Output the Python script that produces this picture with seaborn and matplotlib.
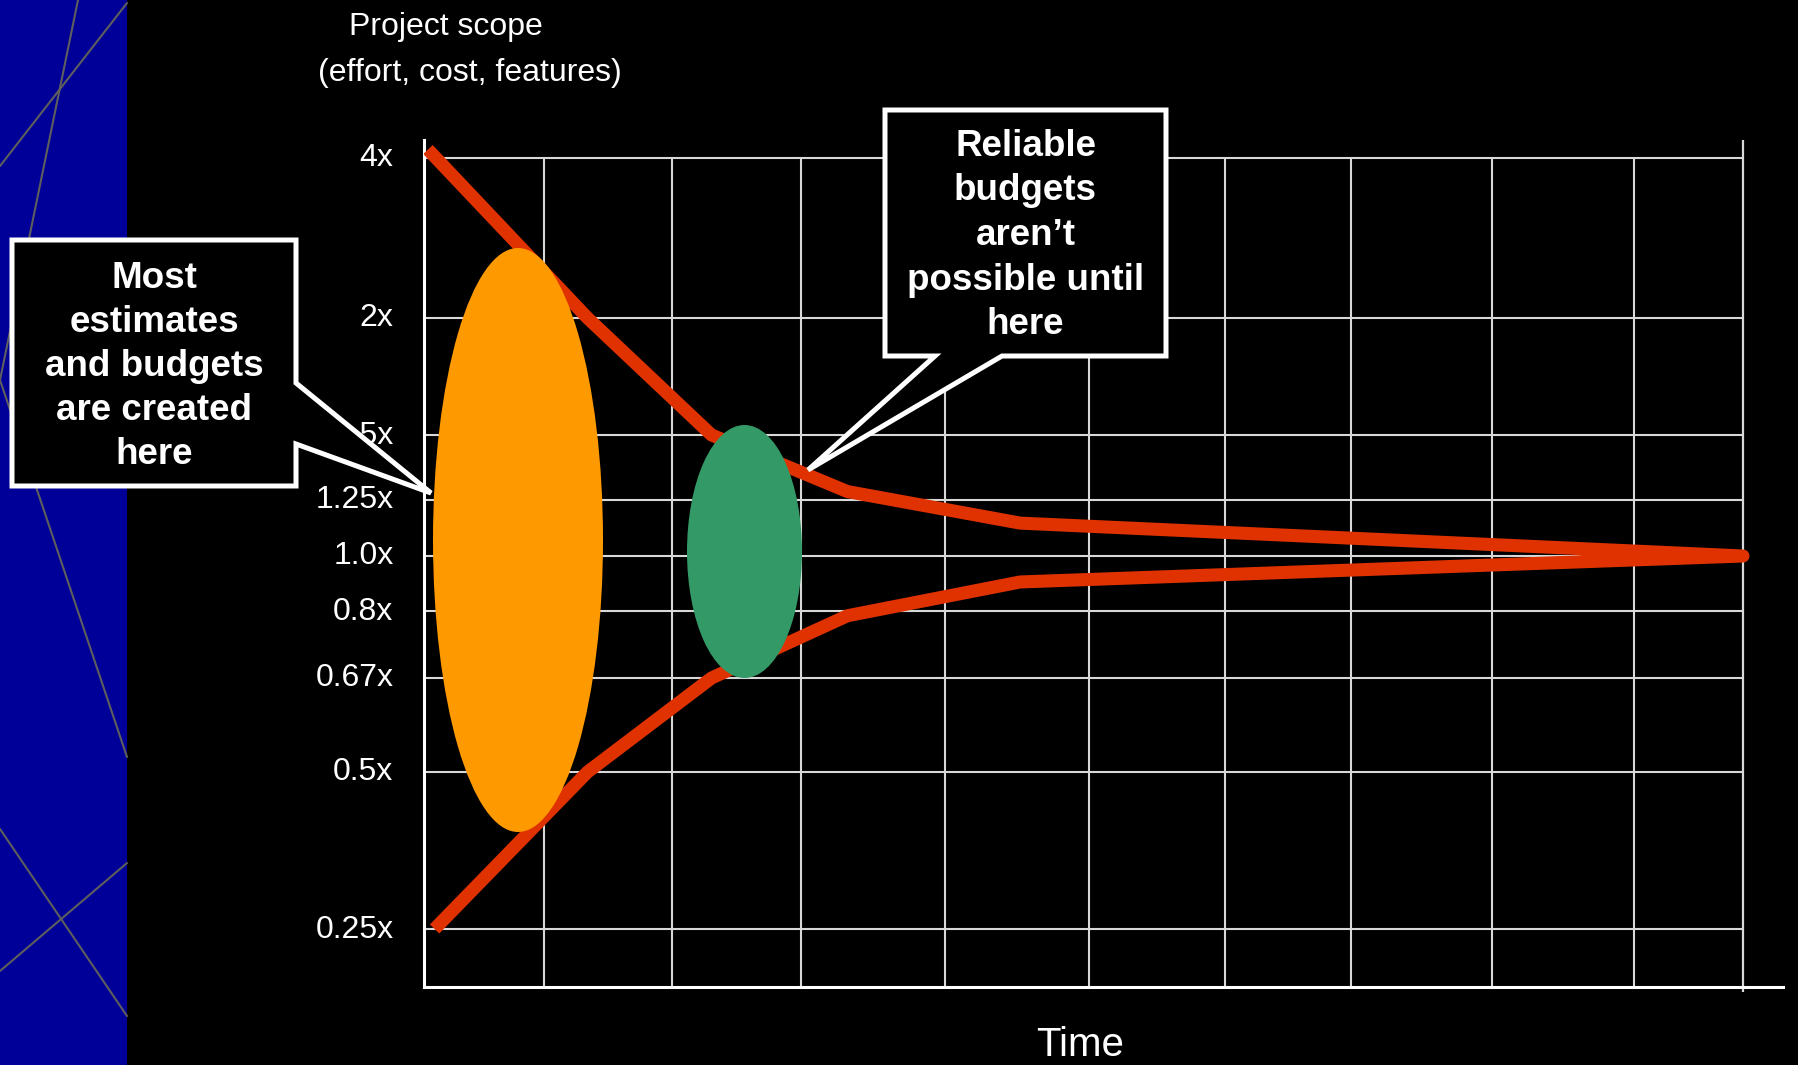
import numpy as np
import pandas as pd
import matplotlib
matplotlib.use("Agg")
import matplotlib.pyplot as plt
import seaborn as sns
from matplotlib.patches import Ellipse, Polygon, Rectangle
from matplotlib.lines import Line2D
from matplotlib.ticker import NullLocator
from matplotlib.transforms import ScaledTranslation

# ---- data -------------------------------------------------------------
# time is in percent of the project, 100 = project complete
upper_time = [0.3, 12.4, 21.8, 32.1, 45.2, 100.0]
upper_scope = [4.15, 2.0, 1.5, 1.28, 1.14, 1.0]
lower_time = [0.8, 12.4, 21.8, 32.1, 45.2, 100.0]
lower_scope = [0.25, 0.5, 0.67, 0.79, 0.90, 1.0]

scope_ticks = [4.0, 2.0, 1.5, 1.25, 1.0, 0.8, 0.67, 0.5, 0.25]
scope_tick_labels = ["4x", "2x", "1.5x", "1.25x", "1.0x", "0.8x", "0.67x", "0.5x", "0.25x"]
time_grid = [9.1, 18.8, 28.6, 39.5, 50.4, 60.7, 70.3, 81.0, 91.7]
time_end = 100.0

early_note = "Most\nestimates\nand budgets\nare created\nhere"
late_note = "Reliable\nbudgets\naren\u2019t\npossible until\nhere"

# ---- style --------------------------------------------------------------
W, H, DPI = 1798, 1065, 100
RED = "#E03200"
ORANGE = "#FF9900"
GREEN = "#339966"
PANEL = "#000099"
GRID = "#d8d8d8"

sns.set_theme(style="dark")
plt.rcParams.update({
    "figure.facecolor": "black",
    "axes.facecolor": "black",
    "text.color": "white",
    "ytick.color": "white",
    "xtick.color": "white",
})
plt.rcParams["font.family"] = ["Liberation Sans", "DejaVu Sans"]


def fx(px):
    return px / W


def fy(py):
    return 1.0 - py / H


# hand-spaced scope axis: piecewise log scale through the labelled levels
_vals = np.array([1 / 16, 0.25, 0.5, 0.67, 0.8, 1.0, 1.25, 1.5, 2.0, 4.0, 16.0])
_rows = np.array([1243, 929, 772, 678, 611, 556, 500, 435, 318, 158, -162], dtype=float)
_logs = np.log2(_vals)


def scope_fwd(v):
    v = np.clip(np.asarray(v, dtype=float), 1e-9, None)
    return np.interp(np.log2(v), _logs, -_rows)


def scope_inv(y):
    return 2.0 ** np.interp(np.asarray(y, dtype=float), -_rows, _logs)


fig = plt.figure(figsize=(W / DPI, H / DPI), dpi=DPI)
fig.patch.set_facecolor("black")

# blue side panel with thin grey strokes
fig.add_artist(Rectangle((0, 0), fx(127), 1, transform=fig.transFigure,
                         facecolor=PANEL, edgecolor="none", zorder=0.5))
for (x0, y0), (x1, y1) in [((127, 3), (0, 166)), ((78, 0), (0, 380)),
                           ((0, 380), (127, 757)), ((0, 829), (127, 1016)),
                           ((0, 971), (127, 863))]:
    fig.add_artist(Line2D([fx(x0), fx(x1)], [fy(y0), fy(y1)], transform=fig.transFigure,
                          color="#5e5e5e", lw=1.5, zorder=0.6))

ax = fig.add_axes([fx(424), fy(987), (1783 - 424) / W, (987 - 140) / H])
ax.set_facecolor("black")
ax.set_yscale("function", functions=(scope_fwd, scope_inv))
y_lo, y_hi = float(scope_inv(-987)), float(scope_inv(-140))
ax.set_ylim(y_lo, y_hi)
ax.set_xlim(0, (1783 - 424) / 13.19)

# grid
ax.hlines(scope_ticks, 0, time_end, color=GRID, lw=1.5, zorder=1)
ax.vlines(time_grid, y_lo, max(scope_ticks), color=GRID, lw=1.5, zorder=1)
ax.vlines([time_end], float(scope_inv(-992)), y_hi, color=GRID, lw=1.6, zorder=1, clip_on=False)

# the cone of uncertainty
cone = pd.DataFrame({
    "time": upper_time + lower_time[::-1],
    "scope": upper_scope + lower_scope[::-1],
})
sns.lineplot(data=cone, x="time", y="scope", sort=False, estimator=None,
             color=RED, lw=9.4, ax=ax, zorder=3)
cone_line = ax.lines[-1]
cone_line.set_solid_capstyle("butt")
cone_line.set_solid_joinstyle("round")

ax.set_xlabel("")
ax.set_ylabel("")
ax.set_xticks([])
ax.set_yticks(scope_ticks)
ax.set_yticklabels(scope_tick_labels)
ax.yaxis.set_minor_locator(NullLocator())
ax.tick_params(axis="y", length=0, pad=22, labelsize=23, labelcolor="white")
lift = ScaledTranslation(0, 3 / DPI, fig.dpi_scale_trans)
for lab in ax.get_yticklabels():
    lab.set_transform(lab.get_transform() + lift)
for side in ["top", "right"]:
    ax.spines[side].set_visible(False)
for side in ["left", "bottom"]:
    ax.spines[side].set_visible(True)
    ax.spines[side].set_color("white")
    ax.spines[side].set_linewidth(2.2)
ax.grid(False)

# highlighted estimate windows
fig.add_artist(Ellipse((fx(518), fy(540)), 170 / W, 584 / H, transform=fig.transFigure,
                       facecolor=ORANGE, edgecolor="none", zorder=2))
fig.add_artist(Ellipse((fx(744.5), fy(551.5)), 115 / W, 253 / H, transform=fig.transFigure,
                       facecolor=GREEN, edgecolor="none", zorder=2))

# callouts
left_box = [(12, 240), (296, 240), (296, 383), (431, 493), (296, 444), (296, 486), (12, 486)]
right_box = [(885, 110), (1166, 110), (1166, 356), (1002, 356), (808, 470), (935, 356), (885, 356)]
for pts in (left_box, right_box):
    fig.add_artist(Polygon([(fx(x), fy(y)) for x, y in pts], closed=True,
                           transform=fig.transFigure, facecolor="black",
                           edgecolor="white", lw=3.6, joinstyle="miter", zorder=3))

for i, line in enumerate(early_note.split("\n")):
    fig.text(fx(154), fy(288 + 44 * i), line, ha="center", va="baseline",
             fontsize=26.5, fontweight="bold", color="white", zorder=4)
for i, line in enumerate(late_note.split("\n")):
    fig.text(fx(1025.5), fy(156 + 44.5 * i), line, ha="center", va="baseline",
             fontsize=26.5, fontweight="bold", color="white", zorder=4)

# axis titles
fig.text(fx(446), fy(27.5), "Project scope", ha="center", va="center", fontsize=23, color="white")
fig.text(fx(470), fy(73.5), "(effort, cost, features)", ha="center", va="center",
         fontsize=23, color="white")
fig.text(fx(1080), fy(1064), "Time", ha="center", va="bottom", fontsize=29,
         color="white", family=["Liberation Sans Narrow", "Liberation Sans", "DejaVu Sans"])

fig.savefig("out.png", dpi=DPI, facecolor="black")
